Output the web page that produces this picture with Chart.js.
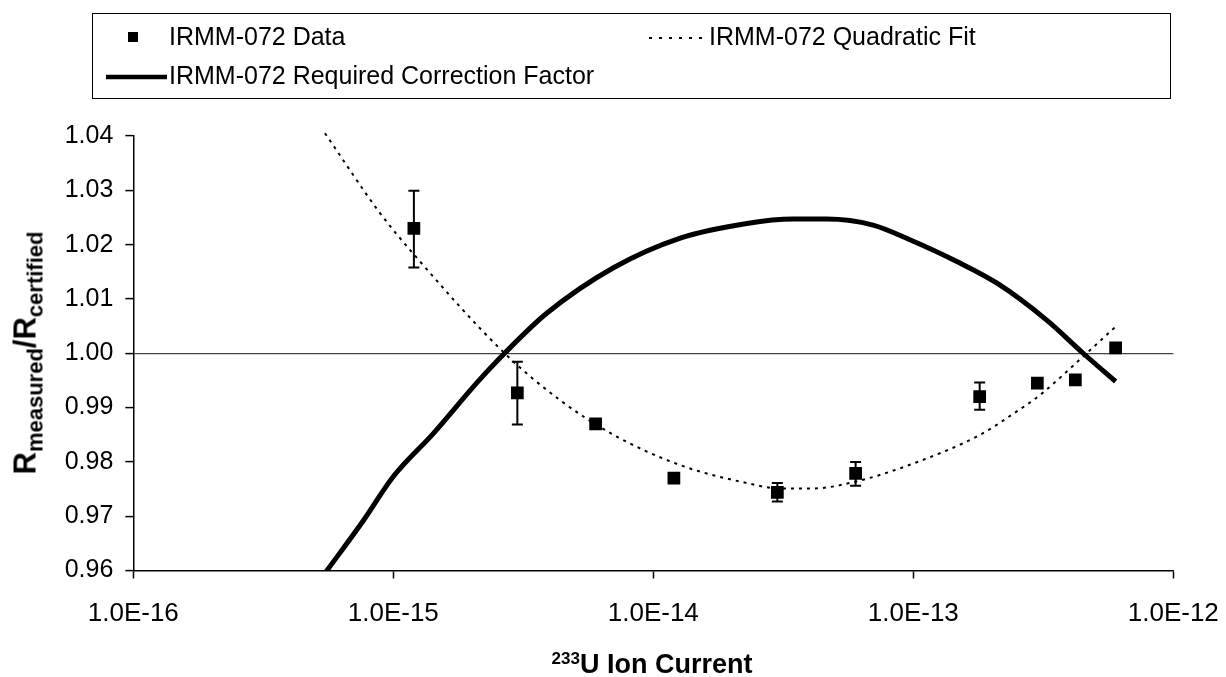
<!DOCTYPE html>
<html>
<head>
<meta charset="utf-8">
<script src="https://cdn.jsdelivr.net/npm/chart.js@4"></script>
<style>
  html, body { margin: 0; padding: 0; background: #fff; }
  body { width: 1226px; height: 677px; position: relative; overflow: hidden;
         font-family: "Liberation Sans", Arial, sans-serif; color: #000; }
  #wrap { position: absolute; left: 0; top: 0; width: 1226px; height: 677px; }
  #legend { position: absolute; left: 92px; top: 13px; width: 1077px; height: 84px;
            border: 1.5px solid #000; font-size: 25px; }
  .item { position: absolute; display: flex; align-items: center; white-space: nowrap; }
  .item svg { display: block; }
  #ytitle { position: absolute; left: 28px; top: 353px; transform: translate(-50%, -50%) rotate(-90deg);
            font-weight: bold; font-size: 31px; white-space: nowrap; }
  #ytitle sub { font-size: 22px; vertical-align: -7px; }
  #xtitle { position: absolute; left: 652px; top: 664px; transform: translate(-50%, -50%);
            font-weight: bold; font-size: 27px; white-space: nowrap; }
  #xtitle sup { font-size: 17px; vertical-align: 9px; }
</style>
</head>
<body>
<div id="wrap"><canvas id="chart" width="1226" height="677"></canvas></div>
<div id="legend"></div>
<div id="ytitle">R<sub>measured</sub>/R<sub>certified</sub></div>
<div id="xtitle"><sup>233</sup>U Ion Current</div>
<script>
// measured points
const dataX = [1.2e-15, 3e-15, 6e-15, 1.2e-14, 3e-14, 6e-14, 1.8e-13, 3e-13, 4.2e-13, 6e-13];
const dataY = [1.0230, 0.9927, 0.9870, 0.9770, 0.9744, 0.9779, 0.9920, 0.9945, 0.9951, 1.0010];
const errLow = [1.0158, 0.9869, 0.9864, null, 0.9727, 0.9756, 0.9896, 0.9939, null, null];
const errHigh = [1.0299, 0.99845, 0.9876, null, 0.9761, 0.9800, 0.9946, 0.9951, null, null];

// quadratic fit
const fitX = [5.46e-16, 8.89e-16, 1.19e-15, 2.68e-15, 4.37e-15, 7.02e-15, 1.27e-14, 2.29e-14,
              3.07e-14, 4.1e-14, 6.03e-14, 1.0e-13, 1.81e-13, 2.43e-13, 3.07e-13, 4.5e-13, 6.0e-13];
const fitY = [1.0405, 1.0258, 1.0184, 1.0000, 0.9914, 0.9850, 0.9794, 0.9761,
              0.9751, 0.9751, 0.9764, 0.9797, 0.9850, 0.9889, 0.9923, 0.9994, 1.0049];

// required correction factor (solid curve)
const corrX = [5.46e-16, 7.7e-16, 1.0e-15, 1.43e-15, 2.09e-15, 2.68e-15, 3.9e-15, 7.0e-15, 1.27e-14,
               2.29e-14, 3.45e-14, 4.64e-14, 7.0e-14, 9.7e-14, 1.47e-13, 2.1e-13, 3.26e-13, 4.5e-13, 6.0e-13];
const corrY = [0.9595, 0.9693, 0.9773, 0.9853, 0.9945, 1.0000, 1.0074, 1.0157, 1.0212,
               1.0239, 1.0247, 1.0247, 1.0236, 1.0209, 1.0169, 1.0129, 1.0061, 1.0000, 0.9948];

const xTicks = [1e-16, 1e-15, 1e-14, 1e-13, 1e-12];
const yMin = 0.96, yMax = 1.04, yStep = 0.01;

const labels = {
  data: "IRMM-072 Data",
  fit: "IRMM-072 Quadratic Fit",
  corr: "IRMM-072 Required Correction Factor"
};

function pairs(xs, ys) {
  return xs.map((x, i) => ({ x: x, y: ys[i] }));
}

function errorSegments() {
  const out = [];
  for (let i = 0; i < dataX.length; i++) {
    if (errLow[i] == null) continue;
    out.push({ x: dataX[i], y: errLow[i] });
    out.push({ x: dataX[i], y: errHigh[i] });
    out.push({ x: dataX[i], y: null });
  }
  return out;
}

Chart.defaults.font.family = '"Liberation Sans", Arial, sans-serif';
Chart.defaults.color = "#000";

new Chart(document.getElementById("chart").getContext("2d"), {
  type: "scatter",
  data: {
    datasets: [
      {
        label: labels.data,
        data: pairs(dataX, dataY),
        pointStyle: "rect",
        pointRadius: 9,
        pointBackgroundColor: "#000",
        pointBorderWidth: 0,
        order: 0
      },
      {
        label: "error",
        data: errorSegments(),
        showLine: true,
        spanGaps: false,
        borderColor: "#000",
        borderWidth: 2,
        pointStyle: "line",
        pointRadius: 5.5,
        pointBorderColor: "#000",
        pointBorderWidth: 2,
        order: 1
      },
      {
        label: labels.fit,
        data: pairs(fitX, fitY),
        showLine: true,
        clip: false,
        borderColor: "#000",
        borderWidth: 2,
        borderDash: [3, 5],
        pointRadius: 0,
        cubicInterpolationMode: "monotone",
        order: 2
      },
      {
        label: labels.corr,
        data: pairs(corrX, corrY),
        showLine: true,
        borderColor: "#000",
        borderWidth: 5,
        pointRadius: 0,
        cubicInterpolationMode: "monotone",
        order: 3
      }
    ]
  },
  options: {
    responsive: false,
    animation: false,
    events: [],
    layout: { padding: { top: 136, right: 52.7, bottom: 46.5, left: 0 } },
    plugins: { legend: { display: false }, tooltip: { enabled: false } },
    scales: {
      x: {
        type: "logarithmic",
        min: 1e-16,
        max: 1e-12,
        afterBuildTicks: (s) => { s.ticks = xTicks.map(v => ({ value: v })); },
        afterFit: (s) => { s.height = 60; s.paddingLeft = 0; s.paddingRight = 0; },
        border: { color: "#000", width: 1.5 },
        grid: { drawOnChartArea: false, tickColor: "#000", tickLength: 8, tickWidth: 1.5 },
        ticks: {
          autoSkip: false,
          maxRotation: 0,
          padding: 20,
          font: { size: 26 },
          callback: (v) => Number(v).toExponential(1).toUpperCase()
        }
      },
      y: {
        min: yMin,
        max: yMax,
        afterFit: (s) => { s.width = 133.3; },
        border: { color: "#000", width: 1.5 },
        grid: {
          color: (c) => (c.tick && Math.abs(c.tick.value - 1) < 1e-9) ? "#444" : "rgba(0,0,0,0)",
          lineWidth: 1.2,
          tickColor: "#000",
          tickLength: 8,
          tickWidth: 1.5
        },
        ticks: {
          stepSize: yStep,
          padding: 12,
          font: { size: 25 },
          callback: (v) => Number(v).toFixed(2)
        }
      }
    }
  }
});

// legend box laid out like the original
function svgIcon(kind) {
  if (kind === "square") {
    return '<svg width="64" height="20"><rect x="23" y="5" width="10" height="10" fill="#000"/></svg>';
  }
  if (kind === "dotted") {
    return '<svg width="60" height="20"><line x1="0" y1="11" x2="58" y2="11" stroke="#000" stroke-width="2" stroke-dasharray="3,7"/></svg>';
  }
  return '<svg width="64" height="20"><line x1="1" y1="11" x2="62" y2="11" stroke="#000" stroke-width="4.5"/></svg>';
}

const legendItems = [
  { kind: "square", text: labels.data, left: 12, top: 23 },
  { kind: "dotted", text: labels.fit, left: 556, top: 23 },
  { kind: "solid", text: labels.corr, left: 12, top: 62 }
];
const legendEl = document.getElementById("legend");
for (const it of legendItems) {
  const d = document.createElement("div");
  d.className = "item";
  d.style.left = it.left + "px";
  d.style.top = (it.top - 15) + "px";
  d.innerHTML = svgIcon(it.kind) + "<span>" + it.text + "</span>";
  legendEl.appendChild(d);
}
</script>
</body>
</html>
